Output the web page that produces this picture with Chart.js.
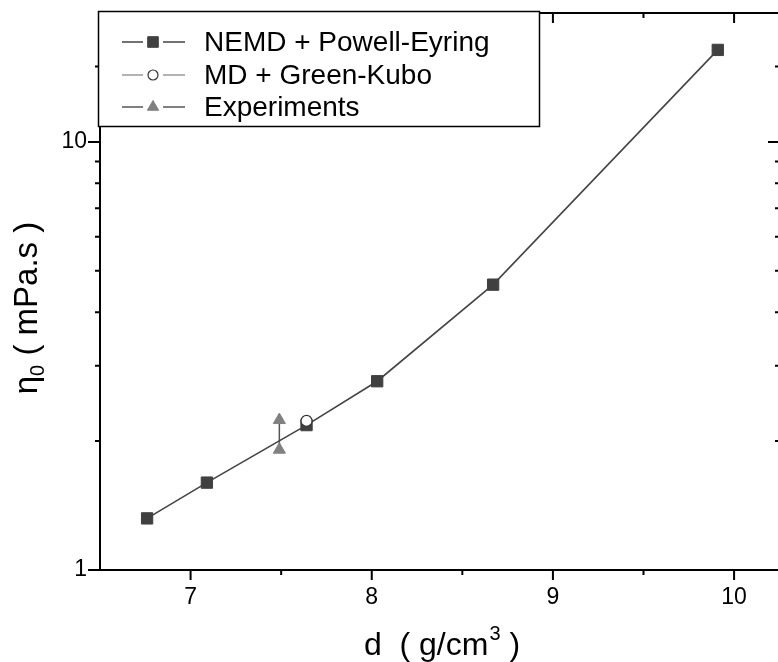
<!DOCTYPE html>
<html>
<head>
<meta charset="utf-8">
<script src="https://cdn.jsdelivr.net/npm/chart.js@4/dist/chart.umd.min.js"></script>
<style>
  body { margin: 0; background: #fff; overflow: hidden; }
  #wrap { width: 778px; height: 662px; overflow: hidden; }
</style>
</head>
<body>
<div id="wrap"><canvas id="etaChart" width="800" height="662"></canvas></div>
<script>
/////////////////////////////// DATA ///////////////////////////////
const nemdDensity = [6.76, 7.09, 7.64, 8.03, 8.67, 9.91];
const nemdEta = [1.32, 1.60, 2.18, 2.76, 4.64, 16.4];

const gkDensity = [7.64];
const gkEta = [2.23];

const expDensity = [7.49, 7.49];
const expEta = [2.24, 1.91];

const xTickValues = [7, 8, 9, 10];
const yTickValues = [1, 10];

const legendLabels = ["NEMD + Powell-Eyring", "MD + Green-Kubo", "Experiments"];

/////////////////////////////// COLORS ///////////////////////////////
c_square = "#404040";
c_line = "#444444";
c_circle = "#333333";
c_tri = "#808080";

const FONT = "'Liberation Sans', Arial, sans-serif";

function pairs(xs, ys) {
    return xs.map((x, i) => ({ x: x, y: ys[i] }));
}

// axes frame, tick marks, titles and legend box
const framePlugin = {
    id: "frame",
    afterDraw(chart) {
        const ctx = chart.ctx;
        const a = chart.chartArea;
        const xs = chart.scales.x;
        const ys = chart.scales.y;
        ctx.save();
        ctx.strokeStyle = "#000";
        ctx.lineWidth = 2;
        ctx.beginPath();
        ctx.rect(a.left, a.top, a.right - a.left, a.bottom - a.top);
        ctx.stroke();

        // x ticks: outward at bottom, inward at top
        xs.ticks.forEach(t => {
            const v = t.value;
            if (Math.abs(v * 2 - Math.round(v * 2)) > 1e-6 || v <= xs.min || v >= xs.max) return;
            const major = Math.abs(v - Math.round(v)) < 1e-6;
            const len = major ? 10 : 5;
            const px = xs.getPixelForValue(v);
            ctx.beginPath();
            ctx.moveTo(px, a.bottom); ctx.lineTo(px, a.bottom + len);
            ctx.moveTo(px, a.top); ctx.lineTo(px, a.top + len);
            ctx.stroke();
        });

        // y ticks: outward at left, inward at right
        ys.ticks.forEach(t => {
            const v = t.value;
            if (v < ys.min || v >= ys.max) return;
            const major = Math.abs(Math.log10(v) - Math.round(Math.log10(v))) < 1e-6;
            const len = major ? 12 : 5;
            const py = ys.getPixelForValue(v);
            ctx.beginPath();
            ctx.moveTo(a.left - len, py); ctx.lineTo(a.left, py);
            ctx.moveTo(a.right - len - 3, py); ctx.lineTo(a.right, py);
            ctx.stroke();
        });

        // x title
        ctx.fillStyle = "#000";
        ctx.textBaseline = "alphabetic";
        const big = "32px " + FONT;
        const small = "20px " + FONT;
        ctx.font = big;
        const p1 = "d  ( g/cm", p3 = " )";
        const w1 = ctx.measureText(p1).width, w3 = ctx.measureText(p3).width;
        ctx.font = small;
        const w2 = ctx.measureText("3").width;
        let x0 = (a.left + a.right) / 2 - (w1 + w2 + w3) / 2;
        const by = 655;
        ctx.font = big; ctx.fillText(p1, x0, by);
        ctx.font = small; ctx.fillText("3", x0 + w1 + 1, by - 15);
        ctx.font = big; ctx.fillText(p3, x0 + w1 + w2 + 1, by);

        // y title (rotated)
        ctx.save();
        ctx.translate(37, 308);
        ctx.rotate(-Math.PI / 2);
        const q1 = "\u03b7", q3 = " ( mPa.s )";
        ctx.font = "33px " + FONT;
        const v1 = ctx.measureText(q1).width, v3 = ctx.measureText(q3).width;
        ctx.font = small;
        const v2 = ctx.measureText("0").width;
        let y0 = -(v1 + v2 + v3) / 2;
        ctx.font = "33px " + FONT; ctx.fillText(q1, y0, 0);
        ctx.font = small; ctx.fillText("0", y0 + v1, 7);
        ctx.font = "33px " + FONT; ctx.fillText(q3, y0 + v1 + v2, 0);
        ctx.restore();

        // legend box
        ctx.fillStyle = "#fff";
        ctx.fillRect(98, 11, 442, 116);
        ctx.lineWidth = 1.5;
        ctx.strokeStyle = "#000";
        ctx.strokeRect(98.5, 11.5, 441, 115);
        const rows = [42, 75, 107];
        const order = [0, 1, 2];
        order.forEach((di, r) => {
            const ds = chart.data.datasets[di];
            const yy = rows[r];
            ctx.strokeStyle = ds.borderColor;
            ctx.lineWidth = ds.legendLineWidth;
            ctx.beginPath();
            ctx.moveTo(122, yy); ctx.lineTo(143, yy);
            ctx.moveTo(163, yy); ctx.lineTo(185, yy);
            ctx.stroke();
            ctx.fillStyle = ds.pointBackgroundColor;
            ctx.strokeStyle = ds.pointBorderColor;
            ctx.lineWidth = ds.pointBorderWidth;
            Chart.helpers.drawPoint(ctx, {
                pointStyle: ds.pointStyle, radius: ds.legendRadius,
                rotation: 0, borderWidth: ds.pointBorderWidth
            }, 153, yy);
            ctx.fillStyle = "#000";
            ctx.font = "28px " + FONT;
            ctx.textBaseline = "middle";
            ctx.fillText(legendLabels[di], 204, yy + 1);
        });
        ctx.restore();
    }
};

/////////////////////////////// CREATE CHART ///////////////////////////////
const etaCtx = document.getElementById("etaChart").getContext("2d");
const etaChart = new Chart(etaCtx, {
    type: "scatter",
    data: {
        datasets: [
            {
                label: legendLabels[0],
                data: pairs(nemdDensity, nemdEta),
                showLine: true,
                borderColor: c_line,
                borderWidth: 1.6,
                legendLineWidth: 1.4,
                pointStyle: "rect",
                pointRadius: 8,
                legendRadius: 7.5,
                pointBackgroundColor: c_square,
                pointBorderColor: c_square,
                pointBorderWidth: 1,
                order: 2,
            },
            {
                label: legendLabels[1],
                data: pairs(gkDensity, gkEta),
                showLine: false,
                borderColor: "#666",
                legendLineWidth: 1,
                pointStyle: "circle",
                pointRadius: 5.5,
                legendRadius: 5,
                pointBackgroundColor: "#fff",
                pointBorderColor: c_circle,
                pointBorderWidth: 1.2,
                order: 1,
            },
            {
                label: legendLabels[2],
                data: pairs(expDensity, expEta),
                showLine: true,
                borderColor: "#555",
                borderWidth: 1.5,
                legendLineWidth: 1.4,
                pointStyle: "triangle",
                pointRadius: 7,
                legendRadius: 6.5,
                pointBackgroundColor: c_tri,
                pointBorderColor: c_tri,
                pointBorderWidth: 1,
                order: 3,
            },
        ],
    },
    options: {
        responsive: false,
        animation: false,
        layout: { padding: { left: 0, top: 13, right: 17, bottom: 0 } },
        plugins: {
            legend: { display: false },
            tooltip: { enabled: false },
        },
        scales: {
            x: {
                type: "linear",
                min: 6.5,
                max: 10.27,
                grid: { display: false, drawTicks: false },
                border: { display: false },
                ticks: {
                    stepSize: 0.5,
                    includeBounds: false,
                    autoSkip: false,
                    maxRotation: 0,
                    padding: 14,
                    color: "#000",
                    font: { family: FONT, size: 23 },
                    callback: v => xTickValues.includes(Math.round(v * 1000) / 1000) ? v : "",
                },
                afterFit: s => { s.height = 92; s.paddingLeft = 0; s.paddingRight = 0; },
            },
            y: {
                type: "logarithmic",
                min: 1,
                max: 20,
                grid: { display: false, drawTicks: false },
                border: { display: false },
                ticks: {
                    autoSkip: false,
                    padding: 13,
                    color: "#000",
                    font: { family: FONT, size: 23 },
                    callback: v => yTickValues.includes(v) ? v : "",
                },
                afterFit: s => { s.width = 100; s.paddingTop = 0; s.paddingBottom = 0; },
            },
        },
    },
    plugins: [framePlugin],
});
</script>
</body>
</html>
